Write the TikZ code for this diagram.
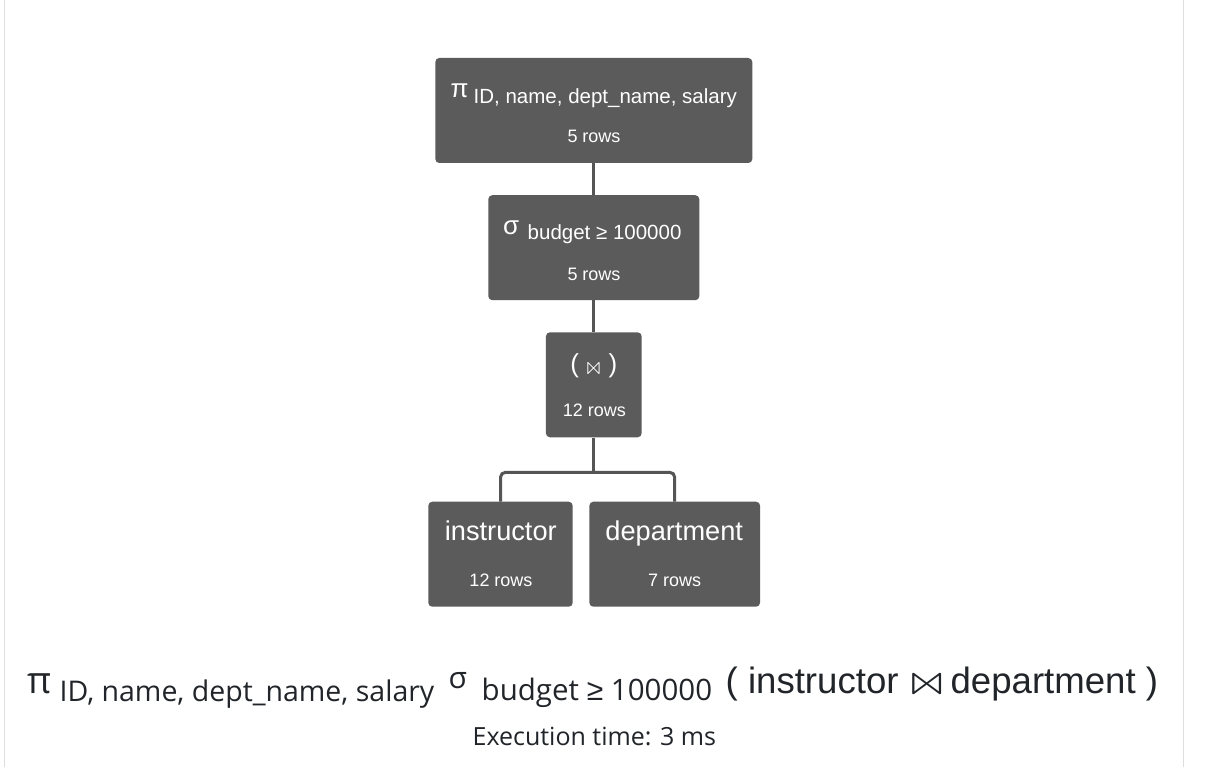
\documentclass[tikz,border=0pt]{standalone}
\usepackage{fontspec}
\setmainfont{Liberation Sans}
\newfontfamily\opensans{Open Sans}
\newfontfamily\libsans{Liberation Sans}
\newfontfamily\lmm{latinmodern-math.otf}
\definecolor{boxgray}{HTML}{5B5B5B}
\definecolor{linegray}{HTML}{555555}
\definecolor{textdark}{HTML}{212529}
\definecolor{bordergray}{HTML}{DEDEDE}
\newcommand\fsz[1]{\fontsize{#1pt}{#1pt}\selectfont}
\begin{document}
\begin{tikzpicture}[x=1pt,y=-1pt,
  opbox/.style={fill=boxgray, rounded corners=4pt, inner sep=0pt, draw=none},
  conn/.style={draw=linegray, line width=3pt},
  wtxt/.style={text=white, inner sep=0pt},
  btxt/.style={text=textdark, inner sep=0pt},
]
\useasboundingbox (0,0) rectangle (1206,767);
\fill[white] (0,0) rectangle (1206,767);
\draw[bordergray, line width=1pt] (4.5,0) -- (4.5,767);
\draw[bordergray, line width=1pt] (1183.3,0) -- (1183.3,767);

% boxes
\node[opbox, minimum width=317pt, minimum height=105pt] (proj) at (593.8,110.5) {};
\node[opbox, minimum width=211pt, minimum height=105pt] (sel) at (593.8,247.7) {};
\node[opbox, minimum width=95.7pt, minimum height=105pt] (join) at (593.8,384.8) {};
\node[opbox, minimum width=144.4pt, minimum height=105pt] (instr) at (500.5,554.2) {};
\node[opbox, minimum width=170.7pt, minimum height=105pt] (dept) at (674.7,554.2) {};

% connectors
\coordinate (forky) at (0,472.3);
\coordinate (fork) at (join.south |- forky);
\draw[conn] (proj.south) -- (sel.north);
\draw[conn] (sel.south) -- (join.north);
\draw[conn] (join.south) -- (fork);
\draw[conn, rounded corners=5pt] (instr.north) |- (fork) -| (dept.north);

% box texts
\node[wtxt, anchor=base west, font=\libsans\fsz{26}] (pisym) at (450.5,97.7) {π};
\node[wtxt, anchor=base west, font=\libsans\fsz{20.5}] (pisub) at (473.5,104) {ID, name, dept\_name, salary};
\node[wtxt, anchor=base, font=\libsans\fsz{18}] (projrows) at (594,142.5) {5 rows};

\node[wtxt, anchor=base west, font=\libsans\fsz{26}] (sigsym) at (503,235) {σ};
\node[wtxt, anchor=base west, font=\libsans\fsz{20.5}] (sigsub) at (527.5,239.5) {budget ≥ 100000};
\node[wtxt, anchor=base, font=\libsans\fsz{18}] (selrows) at (594,280) {5 rows};

\node[wtxt, anchor=base, font=\libsans\fsz{26}] (joinsym) at (593.8,372) {( \raisebox{-2.5pt}{\lmm\fsz{24}⋈} )};
\node[wtxt, anchor=base, font=\libsans\fsz{18}] (joinrows) at (594.3,416.7) {12 rows};

\node[wtxt, anchor=base, font=\libsans\fsz{27.2}] (instrname) at (500.8,540) {instructor};
\node[wtxt, anchor=base, font=\libsans\fsz{18}] (instrrows) at (501,586) {12 rows};
\node[wtxt, anchor=base, font=\libsans\fsz{27.2}] (deptname) at (674.2,540) {department};
\node[wtxt, anchor=base, font=\libsans\fsz{18}] (deptrows) at (674.7,586) {7 rows};

% bottom expression
\node[btxt, anchor=base west, font=\opensans\fsz{37}] (bpi) at (27,693.3) {π};
\node[btxt, anchor=base west, font=\opensans\fsz{28.5}] (bproj) at (59.5,701.7) {ID, name, dept\_name, salary};
\node[btxt, anchor=base west, font=\opensans\fsz{30}] (bsig) at (448.5,688) {σ};
\node[btxt, anchor=base west, font=\opensans\fsz{29.5}] (bsel) at (481.5,700) {budget {\libsans\fsz{30}≥} 100000};
\node[btxt, anchor=base west, font=\libsans\fsz{36.6}] (bleft) at (725.5,693.3) {( instructor};
\node[btxt, anchor=base, font=\lmm\fsz{42}] (bjoin) at (926.7,694.5) {\scalebox{1.35}[1]{⋈}};
\node[btxt, anchor=base west, font=\libsans\fsz{36.6}] (bright) at (950.4,693.3) {department )};
\node[btxt, anchor=base, font=\opensans\fsz{25}] (exec) at (594.4,745) {Execution time: 3 ms};
\end{tikzpicture}
\end{document}
